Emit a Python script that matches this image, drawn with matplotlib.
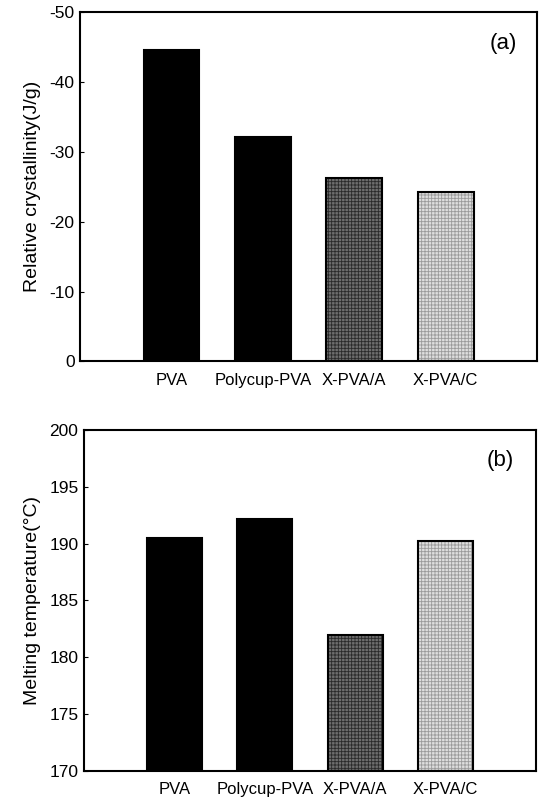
import matplotlib
matplotlib.use("Agg")
import matplotlib.pyplot as plt
import numpy as np

plt.rcParams['font.family'] = ['Liberation Sans', 'DejaVu Sans']
plt.rcParams['axes.unicode_minus'] = False
plt.rcParams['hatch.linewidth'] = 0.6

samples = ['PVA', 'Polycup-PVA', 'X-PVA/A', 'X-PVA/C']
crystallinity = [-44.6, -32.1, -26.2, -24.3]   # J/g
melting_temp = [190.5, 192.2, 182.0, 190.2]    # deg C

fills = ['black', 'black', '#6e6e6e', '#dedede']
hatch_col = ['black', 'black', '#2a2a2a', '#9a9a9a']
hatches = [None, None, '+++++', '+++++']

x = np.arange(1, len(samples) + 1)
width = 0.61

fig = plt.figure(figsize=(5.42, 7.98), dpi=100)
ax1 = fig.add_axes([0.148, 0.547, 0.843, 0.438])
ax2 = fig.add_axes([0.155, 0.034, 0.834, 0.427])


def draw(ax, vals, base):
    for i in range(len(vals)):
        # fill + hatch first, then the outline on top
        ax.bar(x[i], vals[i] - base, width, bottom=base, color=fills[i],
               edgecolor=hatch_col[i], hatch=hatches[i], linewidth=0)
        ax.bar(x[i], vals[i] - base, width, bottom=base, fill=False,
               edgecolor='black', linewidth=1.5)
    ax.set_xlim(0, 5)
    ax.set_xticks(x)
    ax.set_xticklabels(samples, fontsize=12)
    ax.tick_params(axis='x', length=0, pad=8)
    ax.tick_params(axis='y', direction='in', length=3, labelsize=12.5, pad=4)
    for s in ax.spines.values():
        s.set_linewidth(1.5)


draw(ax1, crystallinity, 0)
ax1.set_ylim(0, -50)
ax1.set_yticks([0, -10, -20, -30, -40, -50])
ax1.set_ylabel('Relative crystallinity(J/g)', fontsize=14, labelpad=6)
ax1.text(0.926, 0.91, '(a)', transform=ax1.transAxes, fontsize=16,
         ha='center', va='center')

draw(ax2, melting_temp, 170)
ax2.set_ylim(170, 200)
ax2.set_yticks([170, 175, 180, 185, 190, 195, 200])
ax2.set_ylabel('Melting temperature(\u00b0C)', fontsize=14, labelpad=6)
ax2.text(0.92, 0.912, '(b)', transform=ax2.transAxes, fontsize=16,
         ha='center', va='center')

fig.savefig('out.png', dpi=100)
